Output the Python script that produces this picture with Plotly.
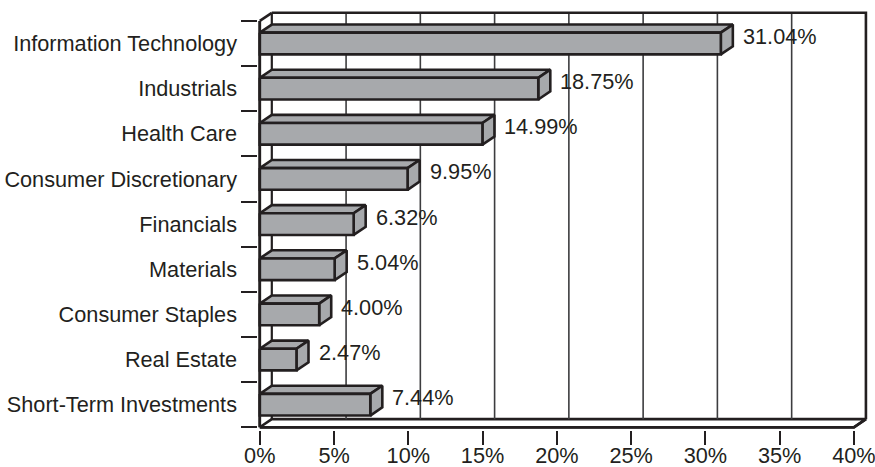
import plotly.graph_objects as go

categories = ["Information Technology", "Industrials", "Health Care",
              "Consumer Discretionary", "Financials", "Materials",
              "Consumer Staples", "Real Estate", "Short-Term Investments"]
values = [31.04, 18.75, 14.99, 9.95, 6.32, 5.04, 4.00, 2.47, 7.44]
value_labels = ["31.04%", "18.75%", "14.99%", "9.95%", "6.32%", "5.04%",
                "4.00%", "2.47%", "7.44%"]
x_ticks = [0, 5, 10, 15, 20, 25, 30, 35, 40]

DX = 0.81     # depth offset in x units
DY = 0.18     # depth offset in category units
H = 0.48      # bar thickness
XMAX = 40
N = len(categories)

DARK = "#231f20"
GRAY = "#a7a9ac"
GRID = "#3d3d3f"
FONT = "Liberation Sans, Arial, Helvetica, sans-serif"
FS = 21.7

fig = go.Figure()


def line(xs, ys, width=2.6, color=DARK):
    fig.add_trace(go.Scatter(x=xs, y=ys, mode="lines",
                             line=dict(color=color, width=width),
                             hoverinfo="skip", showlegend=False))


def poly(xs, ys, fill=GRAY, width=2.6):
    fig.add_trace(go.Scatter(x=xs + [xs[0]], y=ys + [ys[0]], mode="lines",
                             fill="toself", fillcolor=fill,
                             line=dict(color=DARK, width=width),
                             hoverinfo="skip", showlegend=False))


top = -0.5
bot = N - 0.5

# floor
poly([0, XMAX, XMAX + DX, DX], [bot, bot, bot - DY, bot - DY], fill="white", width=2.6)

# back wall gridlines
for t in x_ticks[1:-1]:
    line([t + DX, t + DX], [top - DY, bot - DY], width=1.6, color=GRID)

# back wall outline
line([DX, XMAX + DX, XMAX + DX], [top - DY, top - DY, bot - DY], width=2.6)
# left wall
line([DX, DX], [top - DY, bot - DY], width=2.2)
line([0, DX], [top, top - DY], width=2.6)
line([0, 0], [top, bot], width=2.6)

# bars
for i, v in enumerate(values):
    y0 = i - H / 2
    y1 = i + H / 2
    # top face
    poly([0, DX, v + DX, v], [y0, y0 - DY, y0 - DY, y0])
    # side face
    poly([v, v + DX, v + DX, v], [y0, y0 - DY, y1 - DY, y1])
    # front face
    poly([0, v, v, 0], [y0, y0, y1, y1])

# redraw floor front edge & left edge on top
line([0, XMAX, XMAX + DX], [bot, bot, bot - DY], width=2.8)
line([0, 0], [top, bot], width=2.6)

annotations = []
for i, (v, lab) in enumerate(zip(values, value_labels)):
    annotations.append(dict(x=v + DX, y=i - DY / 2, text=lab, showarrow=False,
                            xanchor="left", yanchor="middle", xshift=8, yshift=3,
                            font=dict(family=FONT, size=FS, color=DARK)))

fig.update_layout(
    width=875, height=467,
    margin=dict(l=258, r=7, t=11, b=37, autoexpand=False),
    paper_bgcolor="white", plot_bgcolor="white",
    showlegend=False,
    annotations=annotations,
    font=dict(family=FONT, size=FS, color=DARK),
    xaxis=dict(range=[-0.12, XMAX + 0.95], tickvals=x_ticks,
               ticktext=[f"{t}%" for t in x_ticks],
               ticks="", ticklabelstandoff=10,
               automargin=False, ticklabeloverflow="allow",
               showgrid=False, zeroline=False, showline=False,
               tickfont=dict(family=FONT, size=FS, color=DARK),
               minor=dict(tickvals=x_ticks, ticks="outside", ticklen=14,
                          tickwidth=1.5, tickcolor=DARK, showgrid=False)),
    yaxis=dict(range=[N - 0.5 + 0.06, -0.72], tickvals=list(range(N)),
               ticktext=categories, ticks="", ticklabelstandoff=20,
               automargin=False, ticklabeloverflow="allow",
               showgrid=False, zeroline=False, showline=False,
               tickfont=dict(family=FONT, size=FS, color=DARK),
               minor=dict(tickvals=[k - 0.5 for k in range(N + 1)],
                          ticks="outside", ticklen=16, tickwidth=1.5,
                          tickcolor=DARK, showgrid=False)),
)

fig.write_html("out.html")
